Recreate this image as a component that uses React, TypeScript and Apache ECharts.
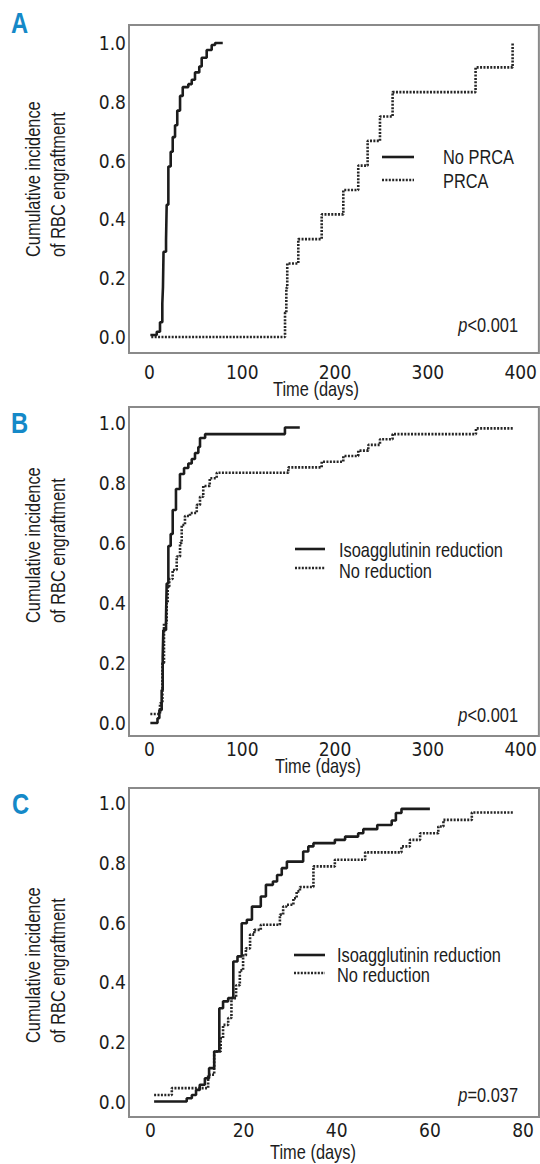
import React, { useEffect, useRef } from "react";
import * as echarts from "echarts";

// ---------- data ----------
const yTickValues = [0, 0.2, 0.4, 0.6, 0.8, 1.0];
const dayTicksLong = [0, 100, 200, 300, 400];
const dayTicksShort = [0, 20, 40, 60, 80];

const panelLetters = ["A", "B", "C"];
const yAxisTitle = "Cumulative incidence\nof RBC engraftment";
const xAxisTitle = "Time (days)";
const legendA = ["No PRCA", "PRCA"];
const legendBC = ["Isoagglutinin reduction", "No reduction"];
const pValueTexts = ["<0.001", "<0.001", "=0.037"];

// Panel A: [day, cumulative incidence]
const aNoPrca: [number, number][] = [
  [1, 0.007], [7.9, 0.018], [11.4, 0.05], [13.9, 0.115], [14.6, 0.17], [15.2, 0.29],
  [17.9, 0.33], [18.6, 0.45], [20.4, 0.58], [22.9, 0.63], [25.1, 0.68], [27.6, 0.72],
  [30, 0.77], [33, 0.82], [35.9, 0.85], [41.9, 0.86], [45.6, 0.875], [49.1, 0.9],
  [53.7, 0.92], [56.3, 0.95], [61.7, 0.976], [67.1, 0.993], [70.7, 1.0], [79, 1.0],
];
const aPrca: [number, number][] = [
  [2, 0], [146.1, 0.083], [147.5, 0.167], [148.5, 0.25], [160.4, 0.333], [185.6, 0.417],
  [208.9, 0.5], [225, 0.583], [235.1, 0.667], [248.4, 0.75], [262, 0.833], [351.4, 0.917],
  [391.3, 1.0],
];

// Panel B
const bReduction: [number, number][] = [
  [1, 0.0], [8.7, 0.016], [10.7, 0.043], [13.2, 0.11], [14.3, 0.22], [15, 0.31],
  [17.9, 0.354], [18.6, 0.465], [20.4, 0.59], [22.9, 0.63], [25.1, 0.71], [28.6, 0.78],
  [32.9, 0.83], [37.3, 0.85], [41.9, 0.865], [45.6, 0.88], [49.1, 0.9], [52.7, 0.92],
  [54.5, 0.95], [60, 0.963], [146, 0.985], [162, 0.985],
];
const bNoReduction: [number, number][] = [
  [1, 0.03], [11.4, 0.066], [14, 0.2], [15.7, 0.333], [18.6, 0.4], [19.7, 0.455],
  [21.4, 0.48], [25, 0.51], [29.4, 0.555], [33, 0.6], [34.8, 0.66], [38.3, 0.69],
  [43.7, 0.7], [51, 0.727], [54.5, 0.754], [58, 0.79], [65, 0.816], [72.5, 0.834],
  [149.6, 0.852], [185.6, 0.871], [208.9, 0.89], [225, 0.908], [235.8, 0.927],
  [248.4, 0.946], [262, 0.963], [351.8, 0.982], [392, 0.982],
];

// Panel C
const cReduction: [number, number][] = [
  [0.8, 0], [7.8, 0.011], [8.9, 0.022], [9.8, 0.039], [10.6, 0.056], [11.7, 0.078],
  [12.6, 0.112], [13.7, 0.168], [14.8, 0.313], [15.6, 0.336], [16.7, 0.347], [17.8, 0.47],
  [18.7, 0.487], [19.6, 0.598], [20.7, 0.61], [21.8, 0.654], [23.7, 0.688], [24.8, 0.727],
  [26.3, 0.738], [27.2, 0.76], [28.2, 0.783], [29.3, 0.805], [32.8, 0.839], [33.9, 0.856],
  [35, 0.867], [39.6, 0.878], [41.8, 0.889], [44.6, 0.9], [45.7, 0.914], [48.7, 0.928],
  [51.8, 0.943], [52.7, 0.968], [53.9, 0.982], [60, 0.982],
];
const cNoReduction: [number, number][] = [
  [0.8, 0.022], [4.6, 0.045], [12.4, 0.09], [13.7, 0.168], [15.1, 0.212], [15.6, 0.257],
  [16.7, 0.28], [17.4, 0.347], [18.4, 0.39], [19.2, 0.44], [19.9, 0.49], [20.5, 0.514],
  [21.4, 0.56], [22.3, 0.576], [23.7, 0.593], [27.8, 0.627], [28.5, 0.654], [29.2, 0.66],
  [30.7, 0.682], [31.4, 0.705], [32.1, 0.72], [35, 0.789], [39.6, 0.811], [46.1, 0.836],
  [53.9, 0.856], [55.7, 0.878], [57.9, 0.9], [61.8, 0.923], [62.9, 0.945], [69, 0.97],
  [78, 0.97],
];

// ---------- styles ----------
const TEXT_FONT = "'Liberation Sans', Arial, sans-serif";
const NUM_FONT = "'DejaVu Sans Condensed', 'DejaVu Sans', sans-serif";
const NARROW = 0.82;
const INK = "#1c1c1c";
const DOT_INK = "#262626";
const BLUE = "#1589c8";
const DOT_DASH = [2, 1.4];

const grids = [
  { left: 129, top: 25, width: 410, height: 328 },
  { left: 129, top: 407, width: 410, height: 329 },
  { left: 129, top: 788, width: 410, height: 329 },
];
const xRanges = [
  { min: -22, max: 419.6, ticks: dayTicksLong, margin: 9 },
  { min: -22, max: 419.6, ticks: dayTicksLong, margin: 3 },
  { min: -4.59, max: 83.42, ticks: dayTicksShort, margin: 3 },
];
const yRanges = [
  { min: -0.0544, max: 1.0612 },
  { min: -0.0433, max: 1.0533 },
  { min: -0.052, max: 1.052 },
];

const solidStyle = { color: INK, width: 2.6, type: "solid" as const };
const dottedStyle = { color: DOT_INK, width: 2.6, type: DOT_DASH };

function stepSeries(name: string, data: [number, number][], idx: number, dotted: boolean) {
  return {
    type: "line",
    name,
    step: "end",
    data,
    xAxisIndex: idx,
    yAxisIndex: idx,
    symbol: "none",
    showSymbol: false,
    lineStyle: dotted ? dottedStyle : solidStyle,
    itemStyle: { color: dotted ? DOT_INK : INK },
    z: dotted ? 2 : 3,
  };
}

function narrowText(x: number, y: number, text: string, extra: any = {}, elExtra: any = {}) {
  return {
    type: "text",
    x,
    y,
    scaleX: NARROW,
    ...elExtra,
    style: {
      text,
      fontFamily: TEXT_FONT,
      fontSize: 20,
      fill: INK,
      align: "left",
      verticalAlign: "middle",
      ...extra,
    },
  };
}

export default function App() {
  const ref = useRef<HTMLDivElement>(null);

  useEffect(() => {
    document.body.style.margin = "0";
    if (!ref.current) return;
    const chart = echarts.init(ref.current, undefined, { renderer: "svg" });

    const xAxes = xRanges.map((r, i) => ({
      type: "value",
      gridIndex: i,
      min: r.min,
      max: r.max,
      axisLine: { show: false },
      axisTick: { show: false },
      splitLine: { show: false },
      axisLabel: {
        customValues: r.ticks,
        margin: r.margin,
        fontFamily: NUM_FONT,
        fontSize: 19,
        color: INK,
      },
    }));
    const yAxes = yRanges.map((r, i) => ({
      type: "value",
      gridIndex: i,
      min: r.min,
      max: r.max,
      axisLine: { show: false },
      axisTick: { show: false },
      splitLine: { show: false },
      axisLabel: {
        customValues: yTickValues,
        margin: 3,
        fontFamily: NUM_FONT,
        fontSize: 19,
        color: INK,
        formatter: (v: number) => v.toFixed(1),
      },
    }));

    const letterPos = [
      { x: 11, y: 9 },
      { x: 11, y: 409 },
      { x: 12, y: 790 },
    ];
    const yTitlePos = [
      { x: 45.5, y: 257 },
      { x: 45.5, y: 623 },
      { x: 45.5, y: 1043 },
    ];
    const xTitlePos = [
      { x: 316, y: 389 },
      { x: 318, y: 766 },
      { x: 313, y: 1152 },
    ];
    const pPos = [
      { x: 518, y: 325 },
      { x: 518, y: 715 },
      { x: 518, y: 1095 },
    ];
    const legendLayout = [
      { names: legendA, x1: 382, x2: 414, rows: [157, 180], textX: 443, textRows: [157, 181] },
      { names: legendBC, x1: 295, x2: 325, rows: [549, 568], textX: 339, textRows: [550, 571] },
      { names: legendBC, x1: 294, x2: 325, rows: [955, 973], textX: 337, textRows: [955, 975] },
    ];

    const graphics: any[] = [];
    panelLetters.forEach((l, i) => {
      graphics.push(
        narrowText(letterPos[i].x, letterPos[i].y, l, {
          fontSize: 29,
          fontWeight: "bold",
          fill: BLUE,
          verticalAlign: "top",
        })
      );
      graphics.push(
        narrowText(
          yTitlePos[i].x,
          yTitlePos[i].y,
          yAxisTitle,
          { lineHeight: 25 },
          { rotation: Math.PI / 2 }
        )
      );
      graphics.push(narrowText(xTitlePos[i].x, xTitlePos[i].y, xAxisTitle, { align: "center" }));
      graphics.push({
        type: "text",
        x: pPos[i].x,
        y: pPos[i].y,
        scaleX: NARROW,
        style: {
          text: "{i|p}{n|" + pValueTexts[i] + "}",
          align: "right",
          verticalAlign: "middle",
          rich: {
            i: { fontFamily: TEXT_FONT, fontSize: 20, fontStyle: "italic", fill: INK },
            n: { fontFamily: TEXT_FONT, fontSize: 20, fill: INK },
          },
        },
      });
      const lg = legendLayout[i];
      lg.names.forEach((name, k) => {
        graphics.push({
          type: "line",
          shape: { x1: lg.x1, y1: lg.rows[k], x2: lg.x2, y2: lg.rows[k] },
          style: {
            stroke: k === 0 ? INK : DOT_INK,
            lineWidth: 2.6,
            lineDash: k === 0 ? null : DOT_DASH,
          },
        });
        graphics.push(narrowText(lg.textX, lg.textRows[k], name));
      });
    });

    chart.setOption({
      animation: false,
      backgroundColor: "#ffffff",
      grid: grids.map((g) => ({
        ...g,
        show: true,
        borderColor: "#8a8a8a",
        borderWidth: 2,
        backgroundColor: "transparent",
      })),
      xAxis: xAxes,
      yAxis: yAxes,
      series: [
        stepSeries(legendA[0], aNoPrca, 0, false),
        stepSeries(legendA[1], aPrca, 0, true),
        stepSeries(legendBC[0], bReduction, 1, false),
        stepSeries(legendBC[1], bNoReduction, 1, true),
        stepSeries(legendBC[0], cReduction, 2, false),
        stepSeries(legendBC[1], cNoReduction, 2, true),
      ],
      graphic: graphics,
    });

    return () => chart.dispose();
  }, []);

  return <div ref={ref} style={{ width: 540, height: 1164 }} />;
}
